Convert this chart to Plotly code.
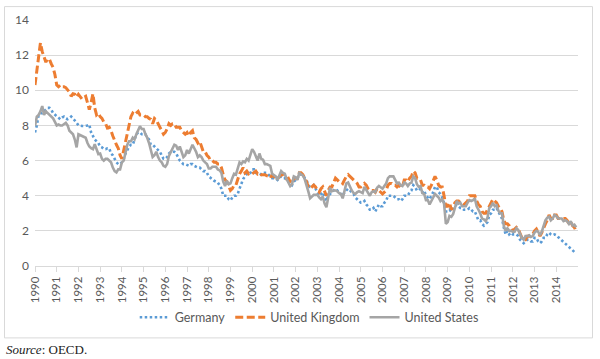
import plotly.graph_objects as go

years = list(range(1990, 2015))
tick_labels = [str(y) for y in years]

germany = [
    7.6, 8.0, 8.6, 8.7, 8.7, 8.8, 8.9, 9.0, 9.0, 8.9, 8.7, 8.6,        # 1990
    8.5, 8.4, 8.35, 8.45, 8.5, 8.4, 8.35, 8.4, 8.5, 8.4, 8.3, 8.15,   # 1991
    8.0, 7.97, 7.97, 7.97, 7.97, 8.0, 8.05, 7.6, 7.4, 7.2, 7.1, 7.0,  # 1992
    6.8, 6.75, 6.65, 6.65, 6.7, 6.7, 6.4, 6.3, 6.1, 5.9, 5.8, 5.8,    # 1993
    5.9, 6.1, 6.4, 6.6, 6.8, 6.9, 6.9, 7.2, 7.5, 7.6, 7.6, 7.5,       # 1994
    7.5, 7.5, 7.3, 7.2, 6.9, 6.9, 6.8, 6.7, 6.6, 6.5, 6.3, 6.1,       # 1995
    6.1, 6.2, 6.4, 6.5, 6.5, 6.5, 6.4, 6.2, 6.0, 5.9, 5.8, 5.8,       # 1996
    5.75, 5.7, 5.8, 5.8, 5.7, 5.65, 5.6, 5.6, 5.5, 5.4, 5.4, 5.3,     # 1997
    5.1, 5.0, 4.9, 4.85, 4.8, 4.75, 4.6, 4.4, 4.0, 4.0, 4.0, 3.8,     # 1998
    3.73, 3.9, 4.0, 4.0, 4.1, 4.4, 4.7, 4.95, 5.1, 5.24, 5.2, 5.3,    # 1999
    5.5, 5.5, 5.3, 5.3, 5.3, 5.2, 5.3, 5.3, 5.3, 5.2, 5.1, 5.0,       # 2000
    5.0, 5.0, 4.9, 5.0, 5.1, 5.0, 5.0, 4.9, 4.8, 4.7, 4.6, 4.8,       # 2001
    4.9, 5.0, 5.2, 5.2, 5.2, 5.0, 4.9, 4.6, 4.5, 4.5, 4.6, 4.4,       # 2002
    4.2, 4.0, 4.1, 4.2, 3.9, 3.7, 4.0, 4.1, 4.2, 4.3, 4.4, 4.3,       # 2003
    4.2, 4.1, 4.0, 4.2, 4.3, 4.4, 4.3, 4.2, 4.1, 3.9, 3.8, 3.7,       # 2004
    3.6, 3.6, 3.7, 3.5, 3.4, 3.2, 3.2, 3.3, 3.1, 3.3, 3.5, 3.4,       # 2005
    3.4, 3.6, 3.7, 4.0, 4.0, 4.0, 4.0, 3.9, 3.8, 3.8, 3.7, 3.8,       # 2006
    4.0, 4.0, 4.0, 4.2, 4.3, 4.6, 4.5, 4.3, 4.3, 4.4, 4.2, 4.3,       # 2007
    4.0, 3.9, 3.8, 4.0, 4.2, 4.5, 4.5, 4.2, 4.1, 3.9, 3.6, 3.1,       # 2008
    3.1, 3.2, 3.1, 3.2, 3.4, 3.5, 3.4, 3.3, 3.3, 3.2, 3.2, 3.2,       # 2009
    3.3, 3.2, 3.1, 3.1, 2.8, 2.6, 2.6, 2.4, 2.3, 2.4, 2.5, 2.9,       # 2010
    3.0, 3.2, 3.2, 3.3, 3.1, 2.9, 2.7, 2.2, 1.8, 2.0, 1.8, 1.9,       # 2011
    1.8, 1.8, 1.8, 1.7, 1.5, 1.4, 1.3, 1.4, 1.5, 1.5, 1.4, 1.4,       # 2012
    1.6, 1.6, 1.4, 1.3, 1.4, 1.6, 1.6, 1.8, 1.9, 1.8, 1.75, 1.8,      # 2013
    1.75, 1.65, 1.55, 1.47, 1.4, 1.3, 1.15, 1.05, 0.95, 0.85, 0.8, 0.72,  # 2014
]

united_kingdom = [
    10.3, 11.2, 12.1, 12.7, 12.2, 11.9, 11.6, 11.8, 11.75, 11.5, 11.3, 10.9,  # 1990
    10.3, 10.2, 10.3, 10.2, 10.2, 10.15, 10.05, 9.9, 9.66, 9.8, 9.77, 9.6,    # 1991
    9.77, 9.6, 9.5, 9.6, 9.66, 9.3, 8.9, 9.3, 9.8, 9.0, 8.6, 8.7,             # 1992
    8.5, 8.4, 8.2, 8.1, 7.85, 7.9, 7.7, 7.4, 7.1, 6.9, 6.7, 6.3,              # 1993
    6.1, 6.6, 7.1, 7.5, 8.1, 8.5, 8.7, 8.6, 8.7, 8.8, 8.6, 8.6,               # 1994
    8.6, 8.5, 8.5, 8.4, 8.35, 8.1, 8.4, 8.3, 8.1, 7.9, 7.7, 7.5,              # 1995
    7.6, 7.8, 8.1, 8.0, 8.1, 8.1, 7.9, 7.9, 7.9, 7.7, 7.6, 7.5,               # 1996
    7.6, 7.4, 7.6, 7.7, 7.3, 7.2, 7.0, 7.1, 6.8, 6.5, 6.5, 6.3,               # 1997
    6.2, 6.0, 6.0, 5.9, 5.9, 5.8, 5.8, 5.6, 5.2, 4.9, 4.8, 4.5,               # 1998
    4.3, 4.4, 4.6, 4.6, 5.0, 5.24, 5.4, 5.6, 5.3, 5.4, 5.24, 5.3,             # 1999
    5.24, 5.3, 5.4, 5.24, 5.3, 5.2, 5.2, 5.2, 5.14, 5.1, 5.0, 5.2,            # 2000
    5.1, 5.0, 4.95, 5.1, 5.2, 5.2, 5.1, 4.95, 5.0, 4.8, 4.7, 5.0,             # 2001
    5.0, 5.0, 5.3, 5.3, 5.2, 5.0, 4.8, 4.5, 4.4, 4.5, 4.6, 4.5,               # 2002
    4.3, 4.2, 4.4, 4.5, 4.2, 4.0, 4.3, 4.5, 4.5, 4.8, 5.0, 4.9,               # 2003
    4.8, 4.8, 4.7, 4.9, 5.1, 5.2, 5.1, 5.0, 4.9, 4.8, 4.7, 4.5,               # 2004
    4.5, 4.6, 4.7, 4.6, 4.4, 4.3, 4.3, 4.3, 4.2, 4.4, 4.3, 4.2,               # 2005
    4.1, 4.2, 4.3, 4.6, 4.7, 4.7, 4.6, 4.6, 4.5, 4.6, 4.5, 4.5,               # 2006
    4.9, 4.9, 4.8, 5.0, 5.1, 5.4, 5.3, 5.0, 5.0, 4.9, 4.6, 4.6,               # 2007
    4.5, 4.5, 4.4, 4.6, 4.9, 5.1, 4.9, 4.6, 4.5, 4.5, 4.0, 3.4,               # 2008
    3.4, 3.6, 3.2, 3.4, 3.6, 3.7, 3.7, 3.6, 3.6, 3.5, 3.6, 3.7,               # 2009
    4.0, 4.0, 4.0, 4.0, 3.7, 3.5, 3.4, 3.1, 3.0, 3.0, 3.2, 3.4,               # 2010
    3.6, 3.8, 3.7, 3.6, 3.4, 3.3, 3.1, 2.6, 2.4, 2.4, 2.3, 2.1,               # 2011
    2.0, 2.1, 2.2, 2.1, 1.8, 1.6, 1.5, 1.5, 1.7, 1.7, 1.8, 1.8,               # 2012
    2.0, 2.1, 1.9, 1.7, 1.9, 2.2, 2.4, 2.6, 2.9, 2.7, 2.7, 2.9,               # 2013
    2.9, 2.7, 2.7, 2.7, 2.7, 2.7, 2.6, 2.4, 2.5, 2.3, 2.2, 1.95,              # 2014
]

united_states = [
    7.97, 8.5, 8.6, 8.8, 9.1, 8.6, 8.8, 8.7, 8.6, 8.5, 8.4, 8.2,        # 1990
    8.0, 8.05, 8.0, 8.0, 8.1, 8.15, 8.0, 7.7, 7.6, 7.5, 7.2, 6.75,      # 1991
    7.5, 7.45, 7.4, 7.35, 7.3, 7.0, 6.8, 6.7, 6.65, 6.93, 6.7, 6.37,    # 1992
    6.4, 6.1, 6.0, 6.1, 6.1, 6.0, 5.9, 5.6, 5.4, 5.33, 5.5, 5.5,        # 1993
    5.9, 6.0, 6.45, 6.9, 7.1, 7.1, 7.3, 7.2, 7.5, 7.7, 7.95, 7.8,       # 1994
    7.8, 7.5, 7.3, 7.0, 6.6, 6.2, 6.3, 6.5, 6.2, 6.0, 5.9, 5.7,         # 1995
    5.65, 5.8, 6.27, 6.5, 6.7, 6.9, 6.85, 6.6, 6.8, 6.5, 6.2, 6.3,      # 1996
    6.6, 6.4, 6.7, 6.9, 6.7, 6.5, 6.2, 6.3, 6.2, 6.0, 5.9, 5.8,         # 1997
    5.55, 5.55, 5.65, 5.65, 5.65, 5.5, 5.45, 5.3, 4.8, 4.55, 4.85, 4.65,  # 1998
    4.7, 5.0, 5.25, 5.2, 5.55, 5.9, 5.8, 5.95, 5.9, 6.1, 6.0, 6.3,      # 1999
    6.65, 6.5, 6.25, 6.0, 6.4, 6.1, 6.05, 5.8, 5.8, 5.75, 5.7, 5.25,    # 2000
    5.15, 5.1, 4.9, 5.15, 5.4, 5.3, 5.25, 4.95, 4.75, 4.55, 4.65, 5.1,  # 2001
    5.05, 4.9, 5.3, 5.2, 5.15, 4.95, 4.65, 4.25, 3.85, 3.95, 4.05, 4.05,  # 2002
    4.05, 3.9, 3.8, 3.95, 3.55, 3.35, 4.0, 4.45, 4.25, 4.3, 4.3, 4.25,  # 2003
    4.15, 4.1, 3.85, 4.35, 4.7, 4.75, 4.5, 4.3, 4.15, 4.1, 4.2, 4.25,   # 2004
    4.2, 4.15, 4.5, 4.35, 4.15, 4.0, 4.2, 4.25, 4.2, 4.45, 4.55, 4.45,  # 2005
    4.4, 4.55, 4.7, 5.0, 5.1, 5.1, 5.1, 4.9, 4.7, 4.75, 4.6, 4.55,      # 2006
    4.75, 4.7, 4.55, 4.7, 4.75, 5.1, 5.0, 4.65, 4.5, 4.55, 4.15, 4.1,   # 2007
    3.75, 3.75, 3.5, 3.7, 3.9, 4.1, 4.0, 3.9, 3.7, 3.8, 3.55, 2.4,      # 2008
    2.5, 2.85, 2.8, 2.95, 3.3, 3.7, 3.55, 3.6, 3.4, 3.4, 3.4, 3.6,      # 2009
    3.75, 3.7, 3.75, 3.85, 3.4, 3.2, 3.0, 2.7, 2.65, 2.55, 2.75, 3.3,   # 2010
    3.4, 3.6, 3.4, 3.45, 3.15, 3.0, 3.0, 2.3, 2.0, 2.15, 2.0, 2.0,      # 2011
    1.95, 1.95, 2.15, 2.05, 1.8, 1.6, 1.5, 1.7, 1.7, 1.75, 1.65, 1.7,   # 2012
    1.9, 2.0, 1.95, 1.75, 1.95, 2.3, 2.6, 2.75, 2.8, 2.6, 2.7, 2.9,     # 2013
    2.85, 2.7, 2.7, 2.7, 2.55, 2.6, 2.55, 2.4, 2.55, 2.3, 2.35, 2.2,    # 2014
]

# monthly time positions (decimal years)
months = [y + m / 12 for y in years for m in range(12)]

FONT = "Lato, 'Open Sans', sans-serif"
GRID = "#D9D9D9"
TXT = "#595959"

fig = go.Figure()
fig.add_trace(go.Scatter(x=months, y=germany, name="Germany", mode="lines",
                         line=dict(color="#5B9BD5", width=2.6, dash="2.5px,2.5px")))
fig.add_trace(go.Scatter(x=months, y=united_kingdom, name="United Kingdom", mode="lines",
                         line=dict(color="#ED7D31", width=3, dash="8px,3.5px")))
fig.add_trace(go.Scatter(x=months, y=united_states, name="United States", mode="lines",
                         line=dict(color="#A5A5A5", width=2.6)))

L, R, T, B = 35, 22, 18, 93
W, H = 600, 359
pw, ph = W - L - R, H - T - B

def px(xp):
    return (xp - L) / pw

def py(yp):
    return (H - B - yp) / ph

fig.update_layout(
    width=W, height=H,
    margin=dict(l=L, r=R, t=T, b=B, pad=0),
    paper_bgcolor="white", plot_bgcolor="white",
    font=dict(family=FONT, size=11.5, color=TXT),
    showlegend=True,
    legend=dict(orientation="h", x=0.505, xanchor="center", y=py(318), yanchor="middle",
                font=dict(family=FONT, size=12.5, color=TXT), itemwidth=30,
                traceorder="normal", bgcolor="rgba(0,0,0,0)"),
    xaxis=dict(range=[1990, 2015], tickvals=years, ticktext=tick_labels,
               tickangle=-90, showgrid=False, showline=True, linecolor=GRID, linewidth=1,
               ticks="outside", ticklen=5, tickcolor=GRID, zeroline=False,
               tickfont=dict(family=FONT, size=11.5, color=TXT)),
    yaxis=dict(range=[0, 14], dtick=2, showgrid=True, gridcolor=GRID, gridwidth=1,
               zeroline=False, showline=False, ticks="", ticklabelstandoff=5,
               tickfont=dict(family=FONT, size=12, color=TXT)),
    shapes=[dict(type="rect", xref="paper", yref="paper",
                 x0=px(4.5), x1=px(592.5), y0=py(338.5), y1=py(4.5),
                 line=dict(color=GRID, width=1), fillcolor="rgba(0,0,0,0)", layer="above")],
    annotations=[dict(xref="paper", yref="paper", x=px(4), y=py(350),
                      xanchor="left", yanchor="middle", showarrow=False,
                      text="<i>Source</i>: OECD.",
                      font=dict(family="'Liberation Serif', serif", size=13, color="#222222"))],
)

fig.write_html("out.html", config={"displayModeBar": False},
               post_script="document.body.style.margin='0';document.body.style.padding='0';")
